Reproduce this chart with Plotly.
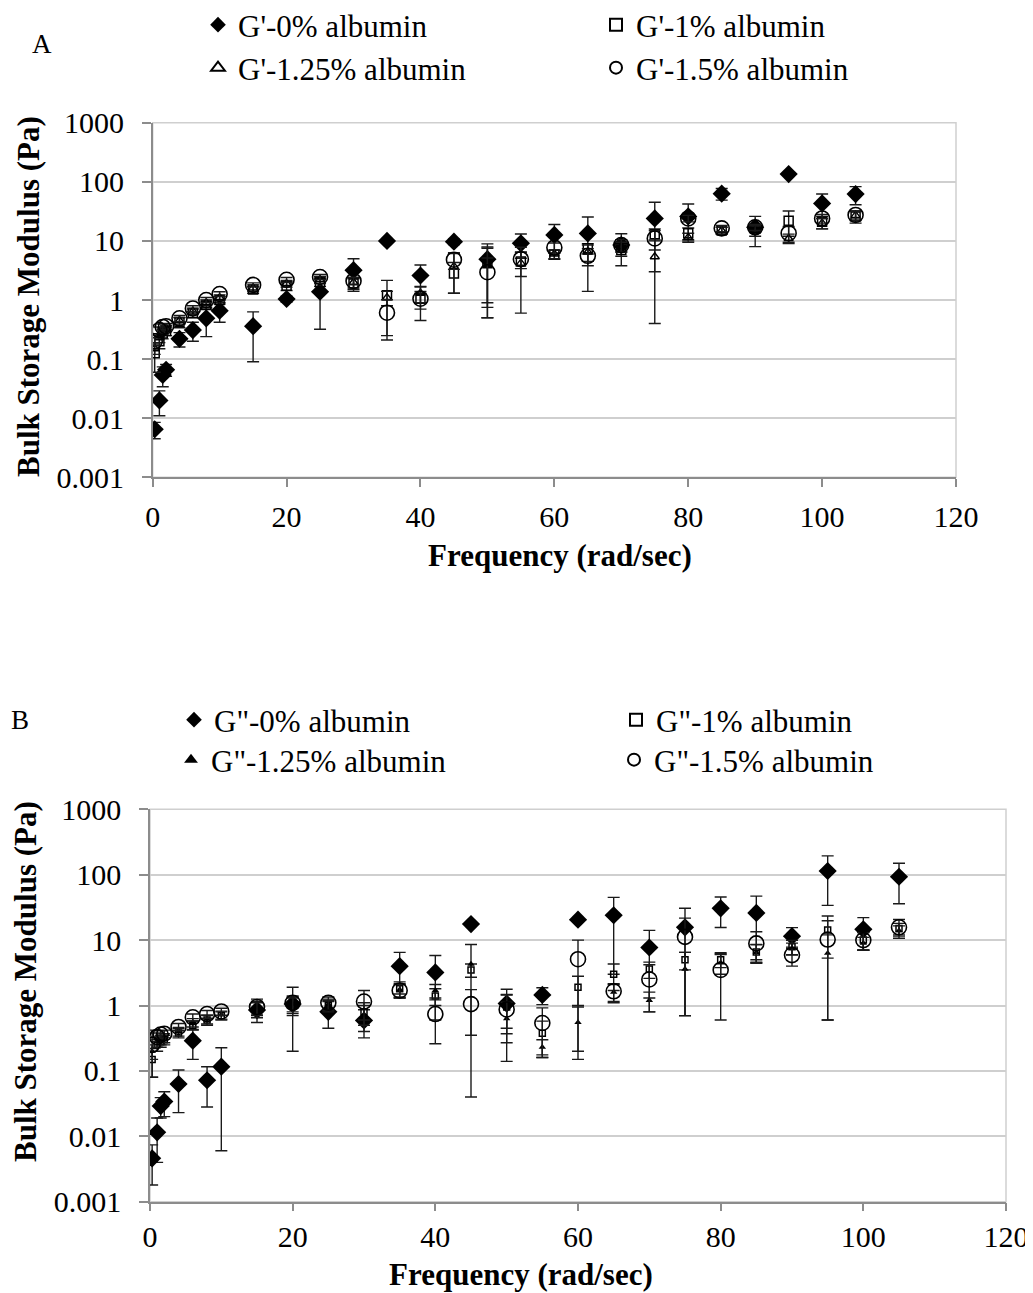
import plotly.graph_objects as go

# ---------------- data ----------------
freq = [0.3, 1, 1.5, 2, 4, 6, 8, 10, 15, 20, 25, 30, 35, 40, 45, 50, 55,
        60, 65, 70, 75, 80, 85, 90, 95, 100, 105]

# Panel A : G' (storage)
gp_0 = [0.0065, 0.020, 0.054, 0.066, 0.22, 0.31, 0.49, 0.66, 0.36, 1.04, 1.38, 3.2, 10, 2.6,
        9.7, 4.9, 9.1, 12.6, 13.4, 8.5, 24, 26, 63, 17, 135, 43, 62]
gp_0_err = [0.002, 0.009, 0.02, 0.015, 0.06, 0.11, 0.25, 0.24, 0.27, 0.12, 1.06, 1.8, 0.8, 1.3,
            1.0, 4.0, 4.0, 6.4, 12, 4.7, 21, 16, 14, 9, 4, 19, 21]
gp_1 = [0.125, 0.2, 0.27, 0.3, 0.42, 0.6, 0.82, 1.0, 1.5, 1.75, 2.0, 1.9, 1.2, 1.05,
        2.8, 4.2, 4.5, 5.9, 7.5, 7.0, 13, 13.5, 15, 16, 22, 21, 26]
gp_1_err = [0.065, 0.05, 0.05, 0.05, 0.08, 0.1, 0.12, 0.15, 0.2, 0.3, 0.3, 0.4, 0.95, 0.35,
            1.5, 3.7, 2.0, 1.0, 1.5, 1.5, 3.0, 3.0, 2.0, 2.0, 10, 5, 6]
gp_125 = [0.15, 0.23, 0.3, 0.33, 0.45, 0.65, 0.9, 1.1, 1.6, 1.9, 2.2, 2.0, 1.1, 1.3,
          3.7, 4.0, 4.2, 6.0, 6.5, 8.0, 5.4, 11.5, 15, 15, 11, 20, 27]
gp_125_err = [0.03, 0.04, 0.04, 0.04, 0.06, 0.08, 0.1, 0.12, 0.2, 0.25, 0.3, 0.4, 0.3, 0.4,
              2.4, 3.5, 3.6, 1.0, 2.0, 1.5, 5.0, 2.0, 2.0, 3.0, 2.0, 4.0, 5.0]
gp_15 = [0.2, 0.31, 0.35, 0.36, 0.49, 0.72, 1.0, 1.26, 1.8, 2.2, 2.45, 2.1, 0.61, 1.05,
         4.8, 2.95, 4.9, 7.7, 5.6, 8.5, 11, 24, 16.3, 17, 13.5, 24, 27.5]
gp_15_err = [0.03, 0.04, 0.04, 0.04, 0.06, 0.08, 0.1, 0.12, 0.15, 0.2, 0.25, 0.3, 0.4, 0.6,
             1.5, 2.2, 1.5, 1.5, 1.8, 2.0, 4.0, 3.0, 2.0, 2.0, 4.0, 4.0, 4.0]

# Panel B : G'' (loss)
gpp_0 = [0.0046, 0.0115, 0.029, 0.034, 0.063, 0.29, 0.072, 0.116, 0.85, 1.05, 0.80, 0.59, 4.0, 3.2,
         17.6, 1.07, 1.45, 20.5, 24, 7.7, 15.7, 30.6, 26, 11.5, 114, 14.6, 93]
gpp_0_err = [0.0028, 0.0075, 0.01, 0.014, 0.04, 0.14, 0.044, 0.11, 0.3, 0.85, 0.35, 0.27, 2.5, 2.6,
             1.2, 0.7, 0.42, 1.0, 21, 6.4, 15, 15, 21, 4, 80, 7.5, 57]
gpp_1 = [0.15, 0.25, 0.28, 0.3, 0.38, 0.5, 0.6, 0.7, 0.9, 1.0, 1.0, 0.8, 1.8, 1.4,
         3.5, 0.95, 0.376, 1.9, 3.0, 3.6, 5.0, 5.0, 6.6, 7.9, 14.3, 10, 15]
gpp_1_err = [0.07, 0.05, 0.05, 0.05, 0.06, 0.08, 0.1, 0.1, 0.2, 0.3, 0.2, 0.3, 0.5, 0.4,
             0.8, 0.5, 0.2, 0.9, 1.3, 1.0, 1.5, 1.2, 2, 2, 9, 3, 3]
gpp_125 = [0.2, 0.28, 0.3, 0.32, 0.4, 0.55, 0.62, 0.72, 0.92, 1.05, 1.05, 0.7, 1.75, 1.7,
           4.3, 0.63, 0.23, 0.55, 1.6, 1.2, 3.6, 4.5, 6.5, 7.5, 6.3, 9, 14]
gpp_125_err = [0.05, 0.05, 0.05, 0.05, 0.06, 0.08, 0.1, 0.1, 0.2, 0.3, 0.2, 0.3, 0.4, 0.4,
               4.26, 0.49, 0.07, 0.4, 0.5, 0.4, 2.9, 1.5, 2, 1.5, 5.7, 2, 2.5]
gpp_15 = [0.25, 0.33, 0.36, 0.37, 0.47, 0.66, 0.74, 0.81, 0.95, 1.1, 1.1, 1.15, 1.7, 0.74,
          1.05, 0.87, 0.54, 5.1, 1.65, 2.5, 11.2, 3.5, 8.9, 5.9, 10.2, 10, 15.7]
gpp_15_err = [0.17, 0.05, 0.05, 0.05, 0.06, 0.08, 0.1, 0.1, 0.3, 0.3, 0.25, 0.55, 0.4, 0.48,
              0.7, 0.6, 0.38, 4.9, 0.5, 1.7, 10.5, 2.9, 4.5, 1.9, 9.6, 3, 5]

names_a = ["G'-0% albumin", "G'-1% albumin", "G'-1.25% albumin", "G'-1.5% albumin"]
names_b = ['G"-0% albumin', 'G"-1% albumin', 'G"-1.25% albumin', 'G"-1.5% albumin']
y_ticks = [0.001, 0.01, 0.1, 1, 10, 100, 1000]
y_ticktext = ["0.001", "0.01", "0.1", "1", "10", "100", "1000"]
x_ticks = [0, 20, 40, 60, 80, 100, 120]

# ---------------- figure ----------------
# the page body has an 8px margin; the figure fills the rest of the 1033x1293 window
OFF = 8
W, H = 1033 - OFF, 1293 - OFF
FONT = "Liberation Serif"
fig = go.Figure()


def px_x(v):          # screen pixel -> paper fraction
    return (v - OFF) / W


def px_y(v):
    return 1 - (v - OFF) / H


err_style = dict(type="data", symmetric=True, color="#1a1a1a", thickness=1.4, width=6)

series_a = [
    (gp_0, gp_0_err, dict(symbol="diamond", size=14, color="black")),
    (gp_1, gp_1_err, dict(symbol="square-open", size=9, color="black", line=dict(width=1.5, color="black"))),
    (gp_125, gp_125_err, dict(symbol="triangle-up-open", size=8, color="black", line=dict(width=1.4, color="black"))),
    (gp_15, gp_15_err, dict(symbol="circle-open", size=15, color="black", line=dict(width=1.6, color="black"))),
]
series_b = [
    (gpp_0, gpp_0_err, dict(symbol="diamond", size=14, color="black")),
    (gpp_1, gpp_1_err, dict(symbol="square-open", size=6, color="black", line=dict(width=1.5, color="black"))),
    (gpp_125, gpp_125_err, dict(symbol="triangle-up", size=6.5, color="black")),
    (gpp_15, gpp_15_err, dict(symbol="circle-open", size=15, color="black", line=dict(width=1.6, color="black"))),
]

LEG_FONT = 31
# legend anchor positions (left edge x, row centre y) in screen pixels
leg_pos_a = [(198, 25), (596, 25), (198, 68), (596, 68)]
leg_pos_b = [(174, 720), (616, 720), (171, 760), (614, 760)]

legend_layout = {}
for i, ((vals, errs, mk), nm) in enumerate(zip(series_a, names_a)):
    lname = "legend" if i == 0 else f"legend{i + 1}"
    fig.add_trace(go.Scatter(x=freq, y=vals, mode="markers", name=nm, marker=mk,
                             error_y=dict(array=errs, **err_style),
                             xaxis="x", yaxis="y", legend=lname))
    lx, ly = leg_pos_a[i]
    legend_layout[lname] = dict(x=px_x(lx), y=px_y(ly), xanchor="left", yanchor="middle",
                                font=dict(family=FONT, size=LEG_FONT, color="black"),
                                bgcolor="rgba(0,0,0,0)", itemsizing="constant", itemwidth=30)

for i, ((vals, errs, mk), nm) in enumerate(zip(series_b, names_b)):
    lname = f"legend{i + 5}"
    fig.add_trace(go.Scatter(x=freq, y=vals, mode="markers", name=nm, marker=mk,
                             error_y=dict(array=errs, **err_style),
                             xaxis="x2", yaxis="y2", legend=lname))
    lx, ly = leg_pos_b[i]
    legend_layout[lname] = dict(x=px_x(lx), y=px_y(ly), xanchor="left", yanchor="middle",
                                font=dict(family=FONT, size=LEG_FONT, color="black"),
                                bgcolor="rgba(0,0,0,0)", itemsizing="constant", itemwidth=30)

# plot area geometry (screen pixels)
A_L, A_R, A_T, A_B = 152.7, 956, 122.7, 477.3
B_L, B_R, B_T, B_B = 150, 1006, 809.3, 1201.7

TICK_FONT = dict(family=FONT, size=30, color="black")
axis_common_x = dict(range=[0, 120], tickvals=x_ticks, showgrid=False, zeroline=False,
                     showline=True, linecolor="#8c8c8c", linewidth=1.5,
                     ticks="outside", ticklen=8, tickcolor="#8c8c8c", tickwidth=1.5,
                     ticklabeloverflow="allow", tickfont=TICK_FONT)
axis_common_y = dict(type="log", range=[-3, 3], tickvals=y_ticks, ticktext=y_ticktext,
                     showgrid=True, gridcolor="#cfcfcf", gridwidth=1.5, zeroline=False,
                     showline=True, linecolor="#8c8c8c", linewidth=1.5,
                     ticks="outside", ticklen=9, tickcolor="#8c8c8c", tickwidth=1.5,
                     ticklabelstandoff=12, ticklabeloverflow="allow",
                     tickfont=TICK_FONT)

fig.update_layout(
    width=W, height=H,
    margin=dict(l=0, r=0, t=0, b=0, autoexpand=False),
    paper_bgcolor="white", plot_bgcolor="white",
    showlegend=True,
    xaxis=dict(domain=[px_x(A_L), px_x(A_R)], anchor="y", ticklabelstandoff=4, **axis_common_x),
    yaxis=dict(domain=[px_y(A_B), px_y(A_T)], anchor="x", **axis_common_y),
    xaxis2=dict(domain=[px_x(B_L), px_x(B_R)], anchor="y2", ticklabelstandoff=0, **axis_common_x),
    yaxis2=dict(domain=[px_y(B_B), px_y(B_T)], anchor="x2", **axis_common_y),
    **legend_layout,
)

# light plot-area border (Excel style)
for xr, yr in (("x", "y"), ("x2", "y2")):
    fig.add_shape(type="rect", xref=f"{xr} domain", yref=f"{yr} domain",
                  x0=0, x1=1, y0=0, y1=1, line=dict(color="#cfcfcf", width=1.5),
                  layer="below")

title_font = dict(family=FONT, size=31, color="black")
annos = [
    dict(text="<b>Bulk Storage Modulus (Pa)</b>", x=px_x(28), y=px_y(297), textangle=-90),
    dict(text="<b>Frequency (rad/sec)</b>", x=px_x(560), y=px_y(555)),
    dict(text="<b>Bulk Storage Modulus (Pa)</b>", x=px_x(25), y=px_y(982), textangle=-90),
    dict(text="<b>Frequency (rad/sec)</b>", x=px_x(521), y=px_y(1274)),
]
for a in annos:
    fig.add_annotation(xref="paper", yref="paper", showarrow=False, xanchor="center",
                       yanchor="middle", font=title_font, **a)

fig.add_annotation(text="A", xref="paper", yref="paper", x=px_x(42), y=px_y(44),
                   showarrow=False, xanchor="center", yanchor="middle",
                   font=dict(family=FONT, size=27, color="black"))
fig.add_annotation(text="B", xref="paper", yref="paper", x=px_x(9), y=px_y(720),
                   showarrow=False, xanchor="left", yanchor="middle",
                   font=dict(family=FONT, size=27, color="black"))

fig.write_html("out.html")
